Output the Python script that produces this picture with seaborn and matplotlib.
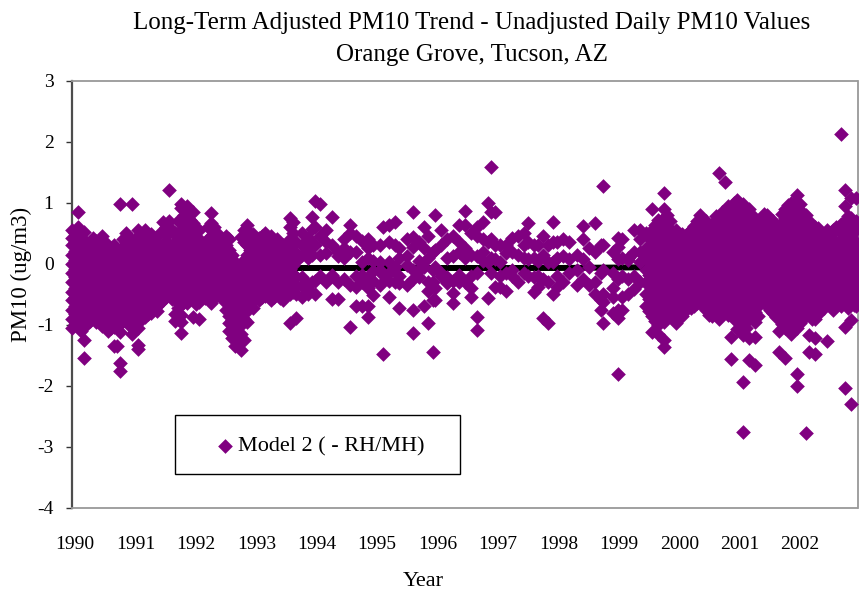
import pandas as pd
import matplotlib
matplotlib.use("Agg")
import matplotlib.pyplot as plt
from matplotlib.patches import Rectangle
import seaborn as sns

TITLE = "Long-Term Adjusted PM10 Trend - Unadjusted Daily PM10 Values\nOrange Grove, Tucson, AZ"
X_LABEL = "Year"
Y_LABEL = "PM10 (ug/m3)"
SERIES = "Model 2 ( - RH/MH)"
year_labels = list(range(1990, 2003))
y_ticks = [-4, -3, -2, -1, 0, 1, 2, 3]

trend_t = [1990.0, 1994.0, 1996.0, 1998.0, 1999.4, 2003.0]
trend_v = [-0.07, -0.07, -0.07, -0.07, -0.06, -0.05]

t_1990 = [.00, .05, .10, .15, .20, .25, .30, .35, .40, .45, .50, .55, .60, .65, .70, .75, .80, .85, .90, .95]
v_1990 = [
    [.55, .42, .3, .14, 0, -.15, -.3, -.47, -.6, -.76, -.9, -1.05],
    [.5, .36, .21, .06, -.08, -.22, -.39, -.54, -.69, -.83, -.98],
    [.84, .6, .47, .22, .07, -.08, -.22, -.38, -.52, -.68, -.83, -.97],
    [.44, .28, .12, -.02, -.18, -.33, -.46, -.61, -.79, -.95, -1.1],
    [.52, .35, .18, .03, -.12, -.27, -.41, -.58, -.72, -.88, -1.02, -1.25, -1.54],
    [.24, .08, -.06, -.2, -.36, -.51, -.67, -.81, -.98],
    [.28, .12, -.03, -.18, -.33, -.49, -.62, -.78, -.93],
    [.42, .19, .05, -.1, -.26, -.41, -.56, -.7, -.87],
    [.38, .2, .06, -.1, -.25, -.39, -.55, -.7, -.84, -.95],
    [.27, .12, -.03, -.19, -.33, -.48, -.62, -.78, -.93],
    [.45, .3, .13, -.02, -.17, -.32, -.46, -.63, -.77, -.9, -1.02],
    [.36, .2, .05, -.1, -.25, -.4, -.55, -.71, -.86, -1.0],
    [.25, .08, -.07, -.22, -.37, -.52, -.66, -.82, -.96, -1.1],
    [.18, .02, -.14, -.3, -.44, -.59, -.74, -.9, -1.06],
    [.3, .16, 0, -.15, -.29, -.44, -.6, -.74, -.9, -1.03, -1.35],
    [.24, .09, -.07, -.22, -.37, -.52, -.66, -.82, -.98, -1.35],
    [.98, .22, .05, -.1, -.25, -.4, -.56, -.7, -.85, -.99, -1.12, -1.62, -1.75],
    [.4, .28, .12, -.03, -.18, -.33, -.49, -.63, -.79, -.94],
    [.5, .36, .18, .02, -.13, -.28, -.43, -.59, -.73, -.88],
    [.43, .26, .1, -.06, -.2, -.36, -.51, -.66, -.81, -1.0],
]
t_1991 = [.00, .05, .10, .15, .20, .25, .30, .35, .40, .45, .50, .55, .60, .65, .70, .75, .80, .85, .90, .95]
v_1991 = [
    [.98, .3, .12, -.03, -.18, -.34, -.48, -.64, -.78, -.94, -1.15],
    [.4, .2, .05, -.11, -.26, -.41, -.56, -.71, -.86, -1.05],
    [.55, .4, .22, .07, -.08, -.23, -.38, -.53, -.69, -.83, -1.05, -1.33, -1.4],
    [.46, .3, .14, 0, -.16, -.3, -.46, -.61, -.76, -.92],
    [.55, .38, .16, .01, -.14, -.28, -.44, -.6, -.74, -.88],
    [.42, .26, .08, -.07, -.22, -.36, -.52, -.67, -.82],
    [.48, .28, .1, -.05, -.2, -.35, -.5, -.63, -.8],
    [.38, .17, .02, -.13, -.28, -.43, -.58, -.72],
    [.35, .2, .04, -.11, -.26, -.41, -.56, -.7, -.78],
    [.5, .28, .12, -.04, -.19, -.34, -.49, -.64],
    [.68, .52, .3, .13, -.02, -.17, -.32, -.47, -.6],
    [.6, .38, .2, .05, -.1, -.25, -.4, -.54],
    [1.2, .7, .5, .22, .06, -.09, -.24, -.38, -.5],
    [.56, .3, .14, -.02, -.17, -.32, -.45, -.58],
    [.5, .33, .15, 0, -.15, -.3, -.46, -.6, -.82, -.93],
    [.7, .42, .24, .08, -.08, -.23, -.38, -.53, -.72, -.9],
    [.97, .92, .72, .55, .38, .2, .05, -.1, -.25, -.4, -.55, -.84, -.95, -1.13],
    [.8, .62, .46, .3, .12, -.02, -.18, -.33, -.48, -.62],
    [.94, .68, .55, .42, .28, .11, -.04, -.19, -.34, -.5, -.65],
    [.72, .6, .35, .19, .03, -.12, -.27, -.42, -.57],
]
t_1992 = [.00, .05, .10, .15, .20, .25, .30, .35, .40, .45, .50, .55, .60, .65, .70, .75, .80, .85, .90, .95]
v_1992 = [
    [.85, .66, .5, .35, .18, .02, -.13, -.28, -.43, -.58, -.87],
    [.58, .42, .26, .1, -.05, -.2, -.36, -.5, -.66],
    [.55, .4, .25, .1, -.05, -.2, -.35, -.5, -.62, -.9],
    [.34, .17, .03, -.12, -.28, -.42, -.56],
    [.3, .16, .02, -.13, -.27, -.42, -.56],
    [.6, .4, .24, .09, -.05, -.2, -.35, -.5],
    [.83, .67, .45, .25, .08, -.07, -.22, -.37, -.5, -.64],
    [.6, .36, .17, .01, -.14, -.3, -.44, -.56],
    [.5, .33, .18, .03, -.12, -.27, -.4, -.5],
    [.4, .22, .06, -.1, -.25, -.38, -.52],
    [.3, .12, -.03, -.18, -.33, -.46, -.6],
    [.46, .3, .14, -.01, -.16, -.31, -.45, -.6, -.75],
    [.4, .22, .07, -.08, -.23, -.38, -.52, -.66, -.85, -.97, -1.1],
    [.14, 0, -.15, -.3, -.45, -.6, -.76, -.92, -1.08, -1.22],
    [.02, -.1, -.25, -.4, -.55, -.72, -.9, -1.06, -1.25, -1.35],
    [-.05, -.18, -.33, -.48, -.62, -.78, -.95, -1.12, -1.3],
    [.43, -.06, -.2, -.36, -.5, -.7, -.85, -1.0, -1.15, -1.25, -1.41],
    [.55, .36, .06, -.1, -.25, -.4, -.56, -.72, -.9, -1.25],
    [.64, .45, .3, .15, 0, -.15, -.3, -.45, -.6, -.78, -.95],
    [.5, .37, .22, .07, -.08, -.23, -.38, -.52, -.66],
]
t_1993 = [.00, .05, .10, .15, .20, .25, .30, .35, .40, .45, .50, .55, .60, .65, .70, .80, .90, .97]
v_1993 = [
    [.48, .33, .18, .03, -.12, -.27, -.42, -.57, -.6, -.72],
    [.4, .25, .1, -.05, -.2, -.35, -.5],
    [.42, .27, .12, -.03, -.18, -.33, -.48, -.6],
    [.46, .3, .19, .04, -.11, -.26, -.41, -.54],
    [.5, .35, .2, .05, -.1, -.25, -.4, -.53],
    [.38, .22, .07, -.08, -.23, -.38, -.53],
    [.45, .3, .14, -.01, -.16, -.31, -.46, -.6],
    [.36, .2, .05, -.12, -.27, -.42, -.55],
    [.4, .25, .1, -.05, -.2, -.35, -.5],
    [.32, .18, .02, -.13, -.28, -.42, -.56],
    [.3, .17, .02, -.13, -.28, -.43, -.5, -.6],
    [.24, .08, -.06, -.21, -.36, -.5],
    [.75, .6, .4, .22, .06, -.09, -.24, -.39, -.5, -.97],
    [.68, .5, .3, .14, -.02, -.17, -.32, -.46],
    [.35, .18, .05, -.22, -.36, -.5, -.89],
    [.5, .3, .14, -.22, -.36, -.54],
    [.42, .22, .1, -.34, -.42, -.5],
    [.76, .57, .36, .15, -.3],
]
t_1994 = [.02, .10, .20, .30, .40, .50, .60, .70, .80, .90, .98]
v_1994 = [
    [1.02, .6, .3, -.28, -.5],
    [.98, .45, .15, -.2],
    [.55, .35, .18, -.3],
    [.77, .3, -.18, -.57],
    [.2, .12, -.3, -.57],
    [.4, .25, .1, -.25],
    [.64, .5, .2, -.35, -1.03],
    [.45, .2, -.2, -.38, -.7],
    [.38, .02, -.18, -.3, -.7],
    [.4, .26, .1, -.22, -.4, -.7, -.88],
    [.3, .05, -.12, -.28, -.51],
]
t_1995 = [.10, .15, .25, .35, .42, .55, .65, .75, .83, .90, .97]
v_1995 = [
    [.3, .02, -.1, -.35],
    [.6, -.18, -1.48],
    [.64, .35, .02, -.15, -.28, -.54],
    [.69, .3, -.05, -.3],
    [.25, .1, -.2, -.32, -.72],
    [.4, .12, -.02, -.35],
    [.84, .43, .28, -.1, -.25, -.76, -1.14],
    [.35, .05, -.1, -.22],
    [.6, .25, -.05, -.7],
    [.45, .1, -.3, -.45, -.97],
    [.2, -.1, -.3, -.6, -1.45],
]
t_1996 = [.00, .10, .20, .30, .40, .50, .60, .70, .80, .88, .93]
v_1996 = [
    [.8, .22, -.05, -.4, -.59],
    [.56, .3, -.15, -.2],
    [.4, .1, -.22, -.32],
    [.45, .13, -.28, -.48, -.64],
    [.64, .35, .2, -.18, -.3],
    [.87, .64, .25, .1, -.3],
    [.5, .15, -.2, -.39, -.54],
    [.6, .45, .12, -.15, -.87, -1.08],
    [.69, .4, .2, .05],
    [1.0, .35, .02, -.56],
    [1.59, .84, .4, .1, -.15],
]
t_1997 = [.00, .08, .18, .28, .38, .48, .55, .65, .72, .80, .88, .96]
v_1997 = [
    [.84, .3, .08, -.38],
    [.3, .02, -.2, -.38],
    [.3, .18, -.15, -.45],
    [.42, .2, -.1, -.2],
    [.45, .15, -.3],
    [.5, .3, .1, -.15],
    [.67, .35, .08, -.2],
    [.3, .1, -.22, -.46],
    [.3, .05, -.2, -.38],
    [.45, .15, -.25, -.89],
    [.3, .03, -.3, -.97],
    [.69, .35, .02, -.5],
]
t_1998 = [.02, .12, .22, .35, .45, .55, .65, .75, .78, .95]
v_1998 = [
    [.35, .1, -.2, -.38],
    [.4, .12, -.3],
    [.35, .08, -.15],
    [.15, -.1, -.35],
    [.62, .4, .08, -.25],
    [.25, -.05, -.35],
    [.66, .2, -.3, -.5],
    [.3, -.15, -.6, -.75],
    [1.28, .3, -.1, -.5, -.62, -.97],
    [.2, -.15, -.4, -.55, -.81],
]
t_1999 = [.03, .10, .20, .30, .40, .50, .55, .60, .65, .70, .75, .80, .85, .90, .95]
v_1999 = [
    [.42, .28, .08, -.25, -.76, -.89, -1.81],
    [.4, .1, -.2, -.55, -.76],
    [.1, .06, -.25, -.5],
    [.55, .2, -.2, -.42],
    [.55, .4, .2, .02, -.3],
    [.5, .25, .1, -.1, -.3, -.5, -.7],
    [.42, .27, .04, -.18, -.36, -.58, -.78],
    [.9, .55, .4, .22, .06, -.1, -.25, -.4, -.55, -.7, -.85, -1.12],
    [.64, .46, .3, .13, -.02, -.17, -.32, -.47, -.62, -.78, -.94],
    [.72, .55, .38, .2, .05, -.1, -.25, -.4, -.55, -.7, -.85, -1.0, -1.15],
    [.62, .46, .3, .12, -.03, -.18, -.33, -.48, -.63, -.78, -.92],
    [1.16, .9, .75, .6, .45, .3, .15, 0, -.15, -.3, -.45, -.6, -.75, -.95, -1.25, -1.36],
    [.8, .62, .47, .3, .07, -.08, -.23, -.38, -.53, -.68, -.88],
    [.7, .55, .38, .22, .08, -.07, -.22, -.37, -.52, -.67, -.82],
    [.48, .31, .16, .01, -.14, -.29, -.44, -.59, -.74, -.9],
]
t_2000 = [.00, .05, .10, .15, .20, .25, .30, .35, .40, .45, .50, .55, .60, .65, .70, .75, .80, .85, .90, .95]
v_2000 = [
    [.55, .4, .25, .1, -.05, -.2, -.35, -.5, -.65, -.8, -.97],
    [.47, .33, .17, .02, -.13, -.28, -.43, -.58, -.72, -.88],
    [.48, .32, .17, .02, -.13, -.28, -.43, -.58, -.73, -.85],
    [.4, .25, .1, -.05, -.2, -.35, -.5, -.65, -.78],
    [.5, .38, .24, .09, -.06, -.21, -.36, -.51, -.66],
    [.56, .31, .16, .01, -.14, -.29, -.44, -.59, -.72],
    [.62, .46, .3, .16, .01, -.14, -.29, -.44, -.59, -.7],
    [.7, .54, .38, .23, .08, -.07, -.22, -.37, -.52, -.64],
    [.8, .62, .38, .23, .08, -.07, -.22, -.37, -.52, -.65],
    [.63, .47, .32, .17, .02, -.13, -.28, -.43, -.58, -.7],
    [.7, .55, .4, .25, .1, -.05, -.2, -.35, -.5, -.62, -.75],
    [.62, .46, .31, .16, .01, -.14, -.29, -.44, -.59, -.72, -.84],
    [.65, .5, .33, .18, .03, -.12, -.27, -.42, -.57, -.72, -.85],
    [.78, .6, .45, .3, .1, -.05, -.2, -.35, -.5, -.65, -.8],
    [1.49, .72, .57, .4, .25, .1, -.05, -.2, -.35, -.5, -.65, -.8, -.9],
    [.85, .66, .5, .34, .18, .03, -.12, -.27, -.42, -.57, -.72],
    [1.33, .75, .6, .47, .32, .17, .02, -.13, -.28, -.43, -.6, -.75],
    [.95, .8, .66, .52, .38, .23, .08, -.07, -.22, -.37, -.52, -.68, -.84],
    [.9, .7, .55, .39, .24, .09, -.06, -.21, -.36, -.51, -.66, -.78, -1.2, -1.56],
    [1.0, .84, .66, .47, .31, .16, .01, -.14, -.29, -.44, -.59, -.74, -.9],
]
t_2001 = [.00, .05, .10, .15, .20, .25, .30, .35, .40, .45, .50, .55, .60, .65, .70, .75, .80, .85, .90, .95]
v_2001 = [
    [1.05, .9, .75, .6, .45, .31, .16, .01, -.14, -.29, -.44, -.59, -.9, -1.07],
    [.98, .82, .67, .52, .38, .23, .08, -.07, -.22, -.37, -.52, -.67, -.82, -.98],
    [.98, .82, .68, .53, .38, .23, .08, -.07, -.22, -.37, -.52, -.67, -.82, -1.17, -1.94, -2.75],
    [.9, .75, .6, .45, .3, .15, 0, -.15, -.3, -.45, -.6, -.75, -.9, -1.05],
    [.9, .75, .6, .45, .3, .15, 0, -.15, -.3, -.45, -.6, -.75, -.9, -1.22, -1.58],
    [.8, .63, .48, .33, .18, .03, -.12, -.27, -.42, -.57, -.72, -.87],
    [.7, .55, .41, .26, .11, -.04, -.19, -.34, -.49, -.64, -.79, -.95, -1.2, -1.66],
    [.66, .5, .34, .19, .04, -.11, -.26, -.41, -.56, -.7, -.85],
    [.75, .6, .46, .31, .16, .01, -.14, -.29, -.44, -.56, -.6],
    [.82, .68, .53, .38, .23, .08, -.07, -.22, -.37, -.5, -.64],
    [.8, .65, .5, .36, .21, .06, -.09, -.24, -.39, -.54, -.65],
    [.74, .58, .43, .28, .13, -.02, -.17, -.32, -.47, -.62, -.76],
    [.7, .55, .4, .25, .1, -.05, -.2, -.35, -.5, -.65, -.8],
    [.63, .47, .32, .17, .02, -.13, -.28, -.43, -.58, -.72, -.88],
    [.62, .48, .33, .18, .03, -.12, -.27, -.42, -.57, -.72, -.87, -1.1, -1.45],
    [.82, .67, .52, .37, .24, .08, -.07, -.22, -.37, -.52, -.67, -.82, -.98],
    [.9, .75, .6, .45, .3, .15, 0, -.15, -.3, -.45, -.6, -.75, -.9, -1.05, -1.54],
    [.96, .82, .67, .52, .37, .22, .07, -.08, -.23, -.38, -.53, -.68, -.83, -1.0],
    [1.0, .85, .7, .55, .4, .25, .1, -.05, -.2, -.35, -.5, -.65, -.8, -.95, -1.15],
    [.98, .78, .62, .47, .32, .17, .02, -.13, -.28, -.43, -.58, -.73, -.88, -1.05],
]
t_2002 = [.00, .05, .10, .14, .20, .25, .30, .35, .40, .45, .50, .55, .60, .65, .72, .76, .80, .85, .90, .94, .98]
v_2002 = [
    [1.13, .9, .75, .6, .45, .3, .15, 0, -.15, -.3, -.45, -.6, -.75, -.9, -1.05, -1.81, -2.0],
    [.98, .82, .67, .52, .37, .22, .07, -.08, -.23, -.38, -.53, -.68, -.83, -.97],
    [.83, .66, .5, .35, .2, .05, -.1, -.25, -.4, -.55, -.7, -.85],
    [.8, .65, .5, .35, .2, .05, -.1, -.25, -.4, -.55, -.7, -.85, -2.78],
    [.7, .55, .4, .25, .1, -.05, -.2, -.35, -.5, -.65, -.8, -1.17, -1.44],
    [.62, .47, .32, .17, .02, -.13, -.28, -.43, -.58, -.73, -.9],
    [.6, .45, .3, .15, 0, -.15, -.3, -.45, -.6, -.75, -.9, -1.22, -1.48],
    [.58, .38, .23, .08, -.07, -.22, -.37, -.52, -.67, -.82],
    [.52, .37, .22, .07, -.08, -.23, -.38, -.53, -.68],
    [.46, .3, .15, 0, -.15, -.3, -.45, -.6, -.72],
    [.55, .4, .25, .1, -.05, -.2, -.35, -.5, -.65, -1.27],
    [.47, .32, .17, .02, -.13, -.28, -.43, -.58, -.7],
    [.55, .4, .25, .1, -.05, -.2, -.35, -.5, -.65, -.75],
    [.6, .32, .17, .02, -.13, -.28, -.43, -.58, -.7],
    [2.13, .65, .5, .35, .2, .05, -.1, -.25, -.4, -.55, -.7],
    [.58, .42, .27, .12, -.03, -.18, -.33, -.48, -.63],
    [1.2, .94, .7, .55, .4, .25, .1, -.05, -.2, -.35, -.5, -.65, -1.04, -2.04],
    [.78, .62, .47, .32, .17, .02, -.13, -.28, -.43, -.58, -.72],
    [1.08, .75, .6, .45, .3, .15, 0, -.15, -.3, -.45, -.6, -.92, -2.29],
    [.68, .53, .38, .23, .08, -.07, -.22, -.37, -.52, -.68],
    [1.08, .7, .55, .35, .2, .05, -.1, -.25, -.4, -.55, -.7],
]

by_year = [
    (1990, t_1990, v_1990), (1991, t_1991, v_1991), (1992, t_1992, v_1992),
    (1993, t_1993, v_1993), (1994, t_1994, v_1994), (1995, t_1995, v_1995),
    (1996, t_1996, v_1996), (1997, t_1997, v_1997), (1998, t_1998, v_1998),
    (1999, t_1999, v_1999), (2000, t_2000, v_2000), (2001, t_2001, v_2001),
    (2002, t_2002, v_2002),
]
rows = [(yr + f, val) for yr, ts, vs in by_year for f, col in zip(ts, vs) for val in col]
df = pd.DataFrame(rows, columns=["t", "pm10"])
trend = pd.DataFrame({"t": trend_t, "v": trend_v})

sns.set_style("white")
plt.rcParams["font.family"] = ["Liberation Serif", "DejaVu Serif"]
plt.rcParams["axes.unicode_minus"] = False

W, H = 859, 592
fig = plt.figure(figsize=(W / 100, H / 100), dpi=100)
ax = fig.add_axes([72 / W, 1 - 508 / H, (857.5 - 72) / W, (508 - 80.5) / H])

PURPLE = "#800080"
sns.lineplot(data=trend, x="t", y="v", color="black", linewidth=4.3, ax=ax, zorder=2, legend=False)
sns.scatterplot(data=df, x="t", y="pm10", marker="D", s=56, color=PURPLE, linewidth=0,
                ax=ax, zorder=3, clip_on=False, legend=False)

ax.set_xlim(1990, 2003)
ax.set_ylim(-4, 3)
ax.set_yticks(y_ticks)
ax.set_xticks([y + 0.05 for y in year_labels])
ax.set_xticklabels([str(y) for y in year_labels])
ax.tick_params(axis="x", length=0, pad=20, labelsize=14, colors="black")
ax.tick_params(axis="y", left=True, length=4.3, width=1, color="#333333", pad=9, labelsize=14, labelcolor="black")

for side in ("top", "right", "bottom"):
    ax.spines[side].set_color("#999999")
    ax.spines[side].set_linewidth(1.3)
    ax.spines[side].set_visible(True)
ax.spines["left"].set_color("#4d4d4d")
ax.spines["left"].set_linewidth(1.6)
ax.spines["left"].set_visible(True)
ax.grid(False)

ax.set_xlabel("")
ax.set_ylabel("")
fig.text(423 / W, 1 - 581 / H, X_LABEL, ha="center", va="center", fontsize=16, color="black")
fig.text(21 / W, 1 - 274 / H, Y_LABEL, ha="center", va="center", rotation=90, fontsize=16.5, color="black")
fig.text(472 / W, 1 - 39 / H, TITLE, ha="center", va="center", fontsize=18, linespacing=1.53, color="black")

ax.add_patch(Rectangle((175 / W, 1 - 474 / H), 285 / W, 59 / H, transform=fig.transFigure,
                       facecolor="white", edgecolor="black", linewidth=1, zorder=5))
handle = ax.scatter([], [], marker="D", s=56, color=PURPLE, linewidth=0)
leg = fig.legend([handle], [SERIES], loc="center left", bbox_to_anchor=(209.5 / W, 1 - 446.5 / H),
                 frameon=False, fontsize=16, handletextpad=-0.1, borderpad=0, borderaxespad=0,
                 handlelength=1.4, labelcolor="black")
leg.set_zorder(6)

fig.savefig("out.png", dpi=100)
